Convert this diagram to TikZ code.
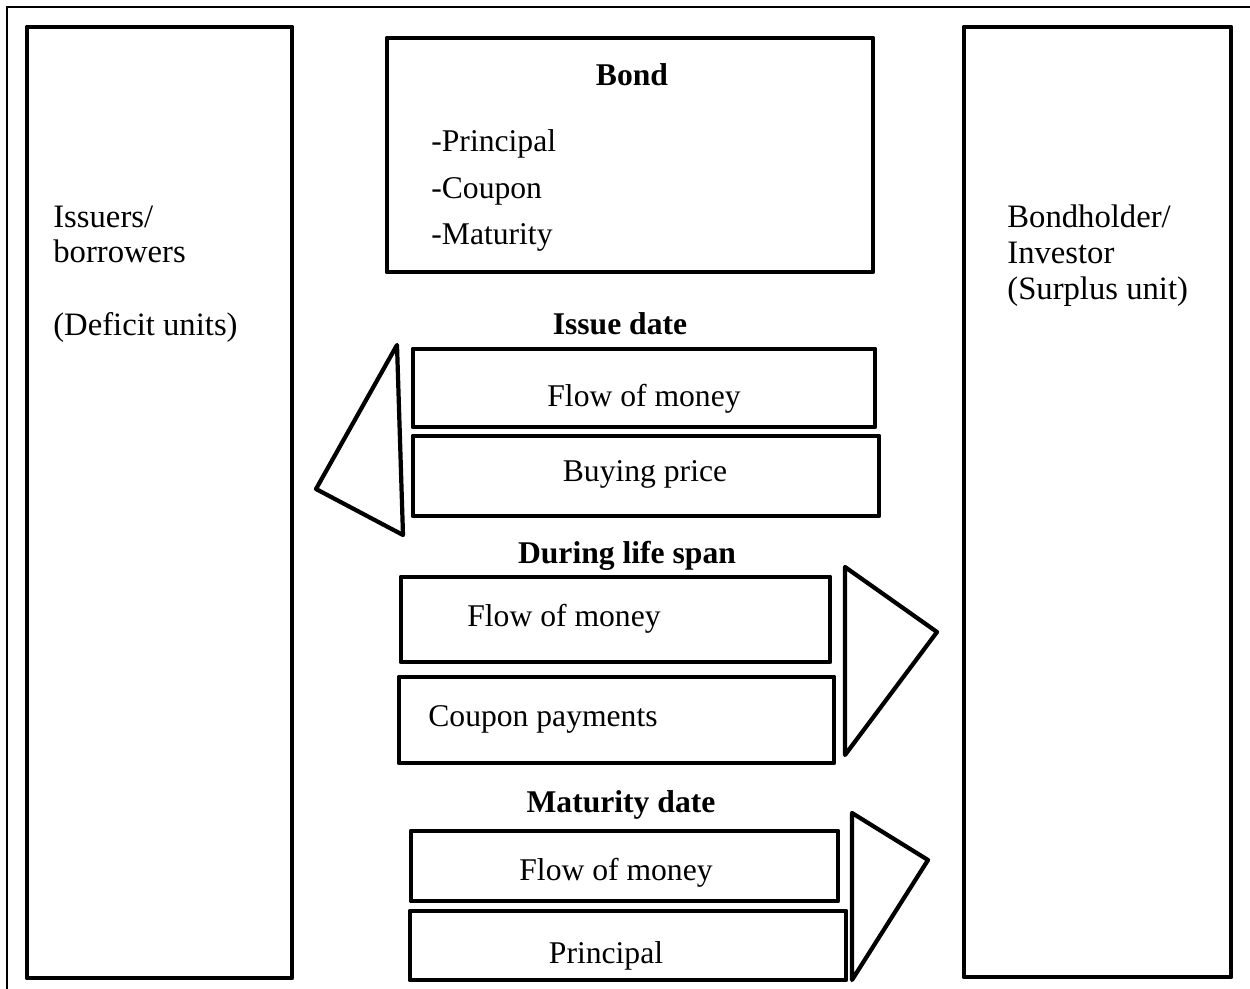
\documentclass[tikz,border=0pt]{standalone}
\usepackage{fontspec}
\setmainfont{Liberation Serif}
\usetikzlibrary{fit}
\begin{document}
\begin{tikzpicture}[x=0.02cm,y=-0.02cm,
  box/.style={draw, line width=2.8pt, line join=round, inner sep=0pt, fit={#1}},
  tri/.style={draw, line width=2.4pt, line join=round},
  frame/.style={draw, line width=0.7pt},
  mid/.style={font=\fontsize{18}{21}\selectfont, inner sep=0pt},
  midb/.style={font=\fontsize{18}{21}\selectfont\bfseries, inner sep=0pt},
  side/.style={font=\fontsize{18.6}{22}\selectfont, inner sep=0pt}]
\useasboundingbox (0,0) rectangle (1250,989);
% outer frame
\draw[frame] (7,989) -- (7,7) -- (1250,7);
% side boxes
\node[box={(27,27)(292,978)}] (issuer) {};
\node[box={(964,27)(1231,977)}] (holder) {};
\node[side, anchor=base west] (i1) at (53,228) {Issuers/};
\node[side, anchor=base west] (i2) at (53,263) {borrowers};
\node[side, anchor=base west] (i3) at (53,336) {(Deficit units)};
\node[side, anchor=base west] (h1) at (1007,228) {Bondholder/};
\node[side, anchor=base west] (h2) at (1007,264) {Investor};
\node[side, anchor=base west] (h3) at (1007,300) {(Surplus unit)};
% bond box
\node[box={(387,38)(873,272)}] (bond) {};
\node[midb, anchor=base] (bondt) at (632,86) {Bond};
\node[mid, anchor=base west] (b1) at (431,152) {-Principal};
\node[mid, anchor=base west] (b2) at (431,199) {-Coupon};
\node[mid, anchor=base west] (b3) at (431,245) {-Maturity};
% issue date
\node[midb, anchor=base] (issue) at (620,335) {Issue date};
\node[box={(413,349)(875,427)}] (fm1) {};
\node[mid, anchor=base] (fm1t) at (644,407) {Flow of money};
\node[box={(413,436)(879,516)}] (bp) {};
\node[mid, anchor=base] (bpt) at (645,481) {Buying price};
\draw[tri] (397,345) -- (316,489) -- (403,535) -- cycle;
% during life span
\node[midb, anchor=base] (life) at (627,563) {During life span};
\node[box={(401,577)(830,662)}] (fm2) {};
\node[mid, anchor=base west] (fm2t) at (467,626) {Flow of money};
\node[box={(399,677)(834,763)}] (cp) {};
\node[mid, anchor=base west] (cpt) at (428,726) {Coupon payments};
\draw[tri] (845,567) -- (937,632) -- (845,755) -- cycle;
% maturity date
\node[midb, anchor=base] (mat) at (621,812) {Maturity date};
\node[box={(411,831)(838,901)}] (fm3) {};
\node[mid, anchor=base] (fm3t) at (616,880) {Flow of money};
\node[box={(410,911)(846,980)}] (pr) {};
\node[mid, anchor=base] (prt) at (606,963) {Principal};
\draw[tri] (852,813) -- (928,860) -- (852,980) -- cycle;
\end{tikzpicture}
\end{document}
